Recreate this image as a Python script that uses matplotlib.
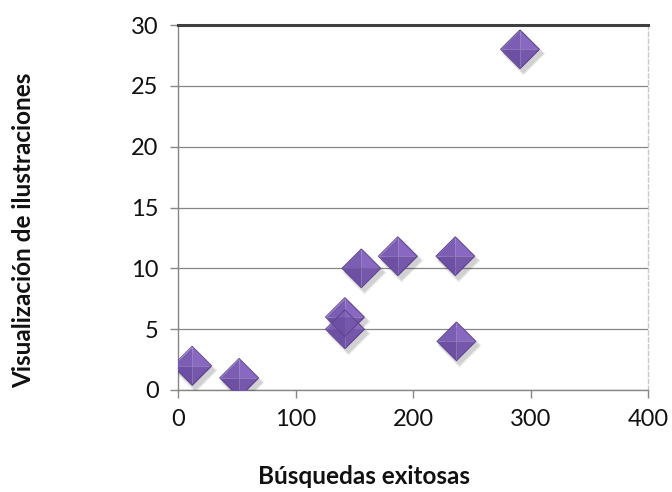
import matplotlib
matplotlib.use("Agg")
import matplotlib.pyplot as plt
from matplotlib.path import Path
from matplotlib.transforms import offset_copy

# data
busquedas = [12, 52, 142, 142, 156, 187, 236, 237, 291]
visualizaciones = [2, 1, 5, 6, 10, 11, 11, 4, 28]
x_ticks = [0, 100, 200, 300, 400]
y_ticks = [0, 5, 10, 15, 20, 25, 30]

plt.rcParams['font.family'] = ['Lato', 'DejaVu Sans']

fig = plt.figure(figsize=(6.72, 4.92), dpi=100)
ax = fig.add_axes([178 / 672, 1 - 390 / 492, 470 / 672, 365 / 492])

ax.set_xlim(0, 400)
ax.set_ylim(0, 30)
ax.set_xticks(x_ticks)
ax.set_yticks(y_ticks)
ax.tick_params(direction='out', length=6, width=1, color='#868686',
               labelsize=17, labelcolor='#111111', pad=8)

# horizontal gridlines
ax.yaxis.grid(True, color='#868686', linewidth=0.9)
ax.set_axisbelow(True)

for s in ['left', 'bottom']:
    ax.spines[s].set_color('#868686')
    ax.spines[s].set_linewidth(1)
ax.spines['top'].set_color('#404040')
ax.spines['top'].set_linewidth(2.2)
ax.spines['right'].set_color('#c8c8c8')
ax.spines['right'].set_linewidth(1)
ax.spines['right'].set_linestyle((0, (3, 2)))

# bevelled diamond markers: four facets + soft shadow
facets = [
    ([(0, 0), (0, 1), (-1, 0), (0, 0)], '#7b5db3'),   # upper-left
    ([(0, 0), (1, 0), (0, 1), (0, 0)], '#8868c0'),    # upper-right
    ([(0, 0), (-1, 0), (0, -1), (0, 0)], '#6d4fa3'),  # lower-left
    ([(0, 0), (0, -1), (1, 0), (0, 0)], '#7558ac'),   # lower-right
]
diamond = Path([(0, 1), (1, 0), (0, -1), (-1, 0), (0, 1)])
size = 780

# shadow
for i, a in enumerate([0.03, 0.05, 0.07, 0.08]):
    tr = offset_copy(ax.transData, fig=fig, x=3, y=-4, units='dots')
    ax.scatter(busquedas, visualizaciones, s=size * (1.35 - 0.1 * i), marker=diamond,
               color='#303030', alpha=a, linewidths=0, transform=tr, zorder=3)

for verts, col in facets:
    ax.scatter(busquedas, visualizaciones, s=size, marker=Path(verts),
               color=col, linewidths=0, zorder=4)
ax.scatter(busquedas, visualizaciones, s=size, marker=diamond,
           facecolor='none', edgecolor='#5e4390', linewidths=0.7, zorder=5)

fig.text(364 / 672, 1 - 477 / 492, 'Búsquedas exitosas', ha='center', va='center',
         fontsize=17.5, fontweight='bold', color='#111111')
fig.text(24 / 672, 1 - 230 / 492, 'Visualización de ilustraciones', ha='center', va='center',
         rotation=90, fontsize=17.5, fontweight='bold', color='#111111')

fig.savefig('out.png', dpi=100)
